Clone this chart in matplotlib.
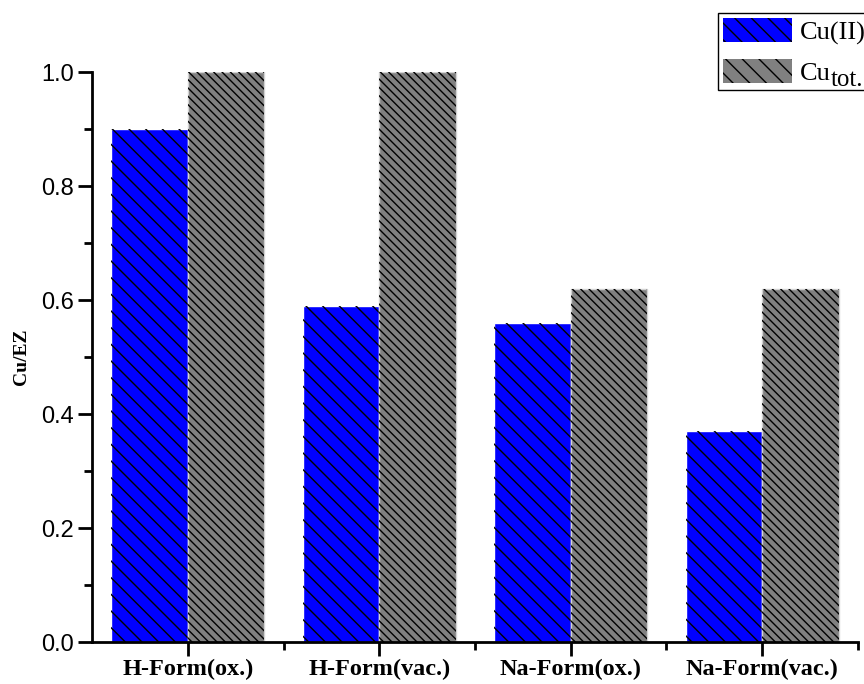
import matplotlib
matplotlib.use('Agg')
import matplotlib.pyplot as plt
import numpy as np
from matplotlib.patches import Patch
from matplotlib.ticker import MultipleLocator, FormatStrFormatter

categories = ['H-Form(ox.)', 'H-Form(vac.)', 'Na-Form(ox.)', 'Na-Form(vac.)']
cu_ii = [0.90, 0.59, 0.56, 0.37]
cu_tot = [1.00, 1.00, 0.62, 0.62]

plt.rcParams['hatch.linewidth'] = 1.0
plt.rcParams['font.family'] = 'Liberation Sans'

fig = plt.figure(figsize=(8.64, 6.84), dpi=100)
ax = fig.add_axes([0.1065, 0.0614, 0.8865, 0.8333])

x = np.arange(len(categories))
w = 0.4

# fill first, then hatch on top in black
ax.bar(x - w / 2, cu_ii, w, color='#0000ff', edgecolor='white', linewidth=1.0)
ax.bar(x - w / 2, cu_ii, w, color='none', edgecolor='black', linewidth=0, hatch='\\\\')
ax.bar(x + w / 2, cu_tot, w, color='#808080', edgecolor='#d3d3d3', linewidth=1.0)
ax.bar(x + w / 2, cu_tot, w, color='none', edgecolor='black', linewidth=0, hatch='\\\\\\\\')

ax.set_xlim(-0.5, 3.5)
ax.set_ylim(0, 1.0)
ax.set_xticks(x)
ax.set_xticks(x + 0.5, minor=True)
ax.set_xticklabels(categories, family='Liberation Serif', fontweight='bold', fontsize=17.5)
ax.yaxis.set_major_locator(MultipleLocator(0.2))
ax.yaxis.set_minor_locator(MultipleLocator(0.1))
ax.yaxis.set_major_formatter(FormatStrFormatter('%.1f'))
ax.tick_params(axis='y', which='major', labelsize=17, width=2, length=10, pad=3)
ax.tick_params(axis='y', which='minor', width=2, length=6)
ax.tick_params(axis='x', which='major', width=2, length=10, pad=2)
ax.tick_params(axis='x', which='minor', width=2, length=6)

ax.set_ylabel('Cu/EZ', family='Liberation Serif', fontweight='bold', fontsize=14, labelpad=8)

ax.spines['top'].set_visible(False)
ax.spines['right'].set_visible(False)
ax.spines['left'].set_linewidth(2)
ax.spines['bottom'].set_linewidth(2)

handles = [
    Patch(facecolor='#0000ff', edgecolor='black', hatch='\\\\', linewidth=0),
    Patch(facecolor='#808080', edgecolor='black', hatch='\\\\', linewidth=0),
]
leg = fig.legend(handles, ['Cu(II)', 'Cu'],
                 loc='upper left', bbox_to_anchor=(718 / 864, 1 - 13 / 684),
                 prop={'family': 'Liberation Serif', 'size': 19},
                 frameon=True, fancybox=False, framealpha=1.0,
                 handlelength=2.6, handleheight=1.0, borderpad=0.2,
                 borderaxespad=0, labelspacing=0.55, handletextpad=0.3)
leg.get_frame().set_edgecolor('black')
leg.get_frame().set_linewidth(1.0)

# subscript "tot." at almost full size, placed after the "Cu" label
fig.canvas.draw()
bb = leg.get_texts()[1].get_window_extent()
fig.text(bb.x1 / 864, (bb.y0 - 6) / 684, 'tot.', family='Liberation Serif',
         fontsize=18, ha='left', va='bottom', zorder=10)

fig.savefig('out.png', dpi=100, facecolor='white')
